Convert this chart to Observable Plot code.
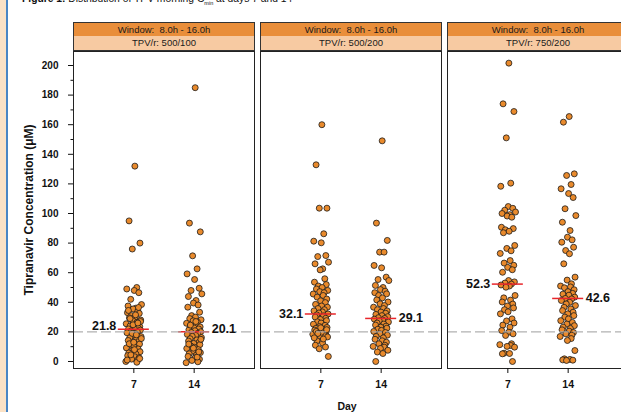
<!DOCTYPE html>
<html><head><meta charset="utf-8">
<script src="https://cdn.jsdelivr.net/npm/d3@7"></script>
<script src="https://cdn.jsdelivr.net/npm/@observablehq/plot@0.6"></script>
<style>
html,body{margin:0;padding:0;background:#fff;overflow:hidden;}
#page{position:relative;width:621px;height:412px;overflow:hidden;font-family:"Liberation Sans",Arial,sans-serif;background:#fff;}
.edge{position:absolute;left:0;top:0;width:6px;height:412px;background:#fbe2c6;}
.edgeline{position:absolute;left:6px;top:0;width:2px;height:412px;background:#4a86c5;}
.title{position:absolute;left:22px;top:-6px;font-size:10.3px;line-height:10.5px;white-space:nowrap;color:#111;}
.title sub{font-size:5.5px;}
.strip{position:absolute;box-sizing:border-box;height:15px;border:1px solid #333;font-size:9.5px;line-height:13px;text-align:center;color:#1a1a1a;white-space:pre;}
.s1{background:#e98e3a;}
.s2{background:#f7caa2;border-top:none;}
</style></head>
<body>
<div id="page">
  <div class="edge"></div><div class="edgeline"></div>
  <div class="title"><b>Figure 1:</b> Distribution of TPV morning C<sub>min</sub> at days 7 and 14</div>
</div>
<script>
// ---- data ----
const days = [7, 14];
const windows = ["Window:  8.0h - 16.0h", "Window:  8.0h - 16.0h", "Window:  8.0h - 16.0h"];
const regimens = ["TPV/r: 500/100", "TPV/r: 500/200", "TPV/r: 750/200"];
const med7 = [21.8, 32.1, 52.3];
const med14 = [20.1, 29.1, 42.6];
const yMajor = [0, 20, 40, 60, 80, 100, 120, 140, 160, 180, 200];
const yMinor = [10, 30, 50, 70, 90, 110, 130, 150, 170, 190];
const threshold = [20];

const p1d7 = [132, 95, 80, 76, 50, 49, 48, 46.5, 42, 38.5, 37.5, 36, 35.5, 34, 33, 32.5, 31, 30, 29.5, 28, 27.5, 26.5, 25.5, 25, 24, 23.5, 23, 22.5, 22, 21.8, 21.2, 20.6, 20, 19.4, 18.8, 17.5, 16.8, 16, 15, 14.2, 13.5, 12.5, 11.8, 11, 10, 9.2, 8.5, 7.5, 6.6, 5.8, 5, 4, 3.2, 2.5, 1.6, 0.8, 0, -0.5, 24.8, 27, 29, 31.5, 34.5, 36.5, 19, 15.5, 12, 8, 4.5, 2, 1, 18, 13, 26];
const p1d14 = [185, 93.5, 87.6, 71.4, 62.6, 59.2, 55.4, 49.5, 48, 45.7, 43.9, 41.2, 39.5, 38.2, 36.7, 33.3, 31, 30, 29, 28.2, 27.5, 26.6, 25.8, 25, 24.2, 23.4, 22.7, 22, 21.4, 20.8, 20.1, 19.6, 19, 18.3, 17.6, 17, 16.2, 15.4, 14.6, 13.8, 13, 12.2, 11.4, 10.5, 9.6, 8.8, 8, 7, 6, 5.2, 4.3, 3.4, 2.5, 1.6, 0.7, -0.2, -0.8, 3, 9, 15, 24.6, 27, 11.8, 6.5];
const p2d7 = [160, 132.9, 103.6, 103.6, 86.3, 81.3, 80.2, 71.6, 70.9, 67.1, 66, 62.6, 61.9, 55.9, 53.6, 52, 51, 50, 49, 48, 47.2, 46.5, 45.6, 44.6, 43.5, 42.2, 41, 39.8, 38.6, 37.5, 36.7, 35.8, 35, 34.2, 33.5, 32.8, 32.1, 31.5, 30.8, 30, 29.2, 28.4, 27.6, 26.8, 26, 25.2, 24.4, 23.6, 23, 22.4, 21.8, 21.2, 20.6, 20, 19.5, 19, 18.4, 17.8, 17.2, 16.6, 14, 12.5, 11, 9.8, 8.6, 3.4, 20.3, 19.8, 18.9, 21.5, 16, 15.2, 22.8];
const p2d14 = [149.1, 93.5, 81.8, 73.9, 73.9, 64.9, 63.3, 57, 55.4, 54.7, 51.4, 50, 48.6, 47.5, 46.5, 45.7, 44.6, 43, 41.6, 40.2, 39, 37.8, 36.7, 35.8, 35, 34.2, 33.4, 32.6, 31.8, 31, 30.3, 29.6, 29.1, 28.6, 28, 27.4, 26.7, 26, 25.3, 24.6, 23.9, 23.2, 22.5, 21.8, 21, 20.3, 19.6, 18.7, 17.8, 16.9, 16, 15, 14, 13, 12, 11, 10.2, 9.7, 8.8, 7.6, 6.4, 5.4, 0];
const p3d7 = [201.6, 174.1, 168.9, 151.1, 120.5, 118.4, 104.7, 103.5, 102.2, 101, 100, 99.2, 98.3, 97.5, 90.7, 89.8, 89, 88, 87, 78.4, 76.4, 74.8, 73, 68.2, 66.5, 65, 63.6, 62, 60.3, 54.7, 53.8, 53, 52.3, 51.7, 51, 50.2, 44.6, 43, 41.5, 40.2, 38.8, 37.5, 36.2, 35, 33.6, 32.2, 28.8, 27.4, 26, 24.6, 23.2, 20.9, 19.8, 18.7, 17.6, 12, 11.4, 10.8, 10.2, 9.7, 5.6, 5.4, 5.2, 0];
const p3d14 = [165.5, 161.7, 126.8, 125.7, 119.6, 116.7, 113.5, 110.8, 103.2, 98.6, 94.1, 88.5, 84, 82.2, 80.6, 77.2, 75, 72.8, 66, 57, 55, 52.5, 51, 50.4, 49.8, 48.5, 47.2, 46, 45.5, 44.8, 43.5, 42.6, 42.3, 41.2, 40, 38.9, 37.8, 36.6, 35.5, 34.4, 33.3, 32.2, 31, 30, 28.8, 27.6, 26.4, 25.3, 24.2, 23.2, 22.3, 21.4, 20.5, 19.6, 18.7, 17.8, 16.9, 15.5, 14.2, 7.4, 1.8, 1.4, 1.1, 0.9, 0.7];
// horizontal jitter (in days) read roughly from the scatter columns
const jitter = [0.12,-0.55,0.71,-0.18,0.34,-0.82,0.05,0.58,-0.36,0.89,-0.67,0.22,-0.08,0.46,-0.74,0.63,-0.29,0.15,-0.51,0.80,-0.12,0.38,-0.88,0.27,-0.43,0.69,-0.02,0.52,-0.61,0.09,0.76,-0.33,0.41,-0.79,0.18,-0.22,0.84,-0.47,0.31,-0.65,0.57,-0.05,0.66,-0.39,0.03,-0.86,0.49,-0.15,0.72,-0.58,0.25,-0.71,0.11,0.61,-0.26,0.43,-0.93,0.35,-0.09,0.78,-0.44,0.20,-0.63,0.54,-0.19,0.87,-0.53,0.07,-0.35,0.68,-0.77,0.29,-0.01,0.47,-0.69,0.14,0.82,-0.41,0.37,-0.24];
const conc = [[p1d7, p1d14], [p2d7, p2d14], [p3d7, p3d14]];

// ---- layout ----
const PW = 181, GAP = 6, LEFT = 73;
const FONT = "Liberation Sans, Arial, sans-serif";
const page = document.getElementById("page");
const hasAxisMarks = typeof Plot.axisY === "function";

function panel(k) {
  const first = k === 0;
  const pts = [];
  days.forEach((day, d) => conc[k][d].forEach((v, i) => pts.push({day, v, j: jitter[i % jitter.length]})));
  const meds = [{day: 7, m: med7[k]}, {day: 14, m: med14[k]}];
  const lift = first ? -3 : 0;
  const marks = [
    Plot.dot(pts, {x: d => d.day + d.j, y: "v", r: 3, fill: "#e98a2c", stroke: "#1a1a1a", strokeWidth: 0.8}),
    Plot.ruleY(meds, {x1: d => d.day - 1.8, x2: d => d.day + 1.8, y: "m", stroke: "#e8262b", strokeWidth: 1.5}),
    Plot.ruleY(threshold, {stroke: "#a9a9a9", strokeWidth: 1.3, strokeDasharray: "10,4", strokeOpacity: 0.9}),
    Plot.text(meds.filter(d => d.day === 7), {x: d => d.day - 1.8, y: "m", text: d => d.m.toFixed(1), textAnchor: "end", dx: -2, dy: lift, fontSize: 12.5, fontWeight: "bold", fill: "#111"}),
    Plot.text(meds.filter(d => d.day === 14), {x: d => d.day + 1.8, y: "m", text: d => d.m.toFixed(1), textAnchor: "start", dx: 2, dy: lift, fontSize: 12.5, fontWeight: "bold", fill: "#111"}),
    Plot.frame({stroke: "#222", strokeWidth: 1})
  ];
  if (k === 1) marks.push(Plot.text(["Day"], {frameAnchor: "bottom", dx: -4, dy: 41, fontSize: 10.5, fontWeight: "bold", fill: "#111"}));
  if (first) marks.push(Plot.text(["Tipranavir Concentration (\u03bcM)"], {frameAnchor: "left", textAnchor: "middle", dx: -44, rotate: -90, fontSize: 12, fontWeight: "bold", fill: "#111"}));
  const opts = {
    width: first ? LEFT + PW : PW,
    height: 366,
    marginLeft: first ? LEFT : 0, marginRight: 0, marginTop: 5, marginBottom: 44,
    style: {fontFamily: FONT, fontSize: "10px", fontWeight: "bold", color: "#111", background: "transparent", overflow: "visible"},
    x: {domain: [0, 21]},
    y: {domain: [-4.73, 209.46]},
    marks
  };
  if (hasAxisMarks) {
    opts.x.axis = null; opts.y.axis = null;
    marks.push(Plot.axisX(days, {tickSize: 5, tickPadding: 7, label: null, fontSize: 10.5, fontWeight: "bold"}));
    if (first) {
      marks.push(Plot.axisY(yMajor, {tickSize: 5, tickPadding: 10, label: null, fontSize: 10, fontWeight: "bold"}));
      marks.push(Plot.axisY(yMinor, {tickSize: 2.5, tickFormat: () => "", label: null}));
    }
  } else {
    Object.assign(opts.x, {ticks: days, tickSize: 5, tickPadding: 7, label: null});
    Object.assign(opts.y, first ? {ticks: yMajor, tickSize: 5, tickPadding: 10, label: null} : {axis: null});
  }
  const svg = Plot.plot(opts);
  const x0 = first ? 0 : LEFT + k * (PW + GAP);
  svg.style.position = "absolute";
  svg.style.left = x0 + "px";
  svg.style.top = "46px";
  page.appendChild(svg);
  const sx = LEFT + k * (PW + GAP);
  const a = document.createElement("div");
  a.className = "strip s1"; a.textContent = windows[k];
  Object.assign(a.style, {left: sx + "px", top: "22px", width: (PW + 1) + "px"});
  const b = document.createElement("div");
  b.className = "strip s2"; b.textContent = regimens[k];
  Object.assign(b.style, {left: sx + "px", top: "36px", width: (PW + 1) + "px"});
  page.appendChild(a); page.appendChild(b);
}
[0, 1, 2].forEach(panel);
</script>
</body></html>
